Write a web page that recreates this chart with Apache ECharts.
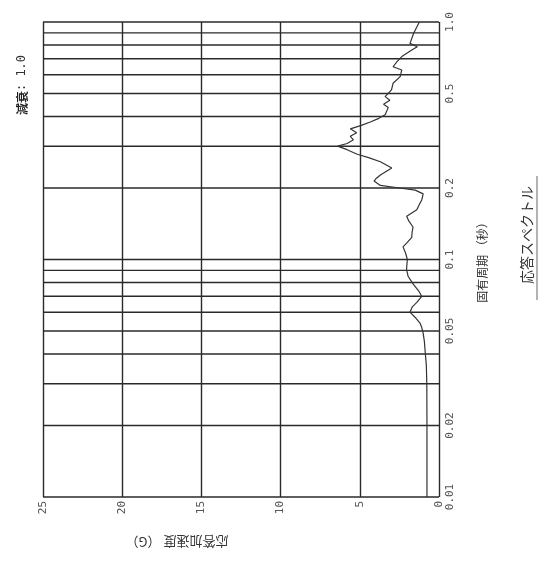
<!DOCTYPE html>
<html>
<head>
<meta charset="utf-8">
<script src="https://cdn.jsdelivr.net/npm/echarts@6/dist/echarts.min.js"></script>
<style>html,body{margin:0;padding:0;background:#fff;}#c{width:548px;height:563px;}</style>
</head>
<body>
<div id="c"></div>
<script>
// Period grid lines (s) and labelled ticks
const periodGrid = [0.01,0.02,0.03,0.04,0.05,0.06,0.07,0.08,0.09,0.1,0.2,0.3,0.4,0.5,0.6,0.7,0.8,0.9,1.0];
const periodTicks = [0.01,0.02,0.05,0.1,0.2,0.5,1.0];
const periodTickLabels = ['0.01','0.02','0.05','0.1','0.2','0.5','1.0'];
// Response spectrum: period (s) and response acceleration (G)
const period = [0.010,0.020,0.030,0.036,0.040,0.045,0.049,0.052,0.054,0.057,0.060,0.063,0.066,0.070,0.074,0.079,0.085,0.091,0.100,0.106,0.113,0.118,0.124,0.130,0.137,0.145,0.152,0.162,0.170,0.178,0.189,0.196,0.200,0.205,0.214,0.220,0.227,0.243,0.258,0.268,0.278,0.290,0.300,0.308,0.319,0.330,0.342,0.355,0.367,0.380,0.393,0.407,0.437,0.450,0.468,0.485,0.518,0.552,0.589,0.628,0.648,0.681,0.720,0.762,0.787,0.813,0.896,1.000];
const accel  = [0.76,0.76,0.77,0.80,0.86,0.92,1.00,1.10,1.20,1.50,1.83,1.70,1.40,1.09,1.30,1.64,1.95,2.05,2.00,2.10,2.27,2.00,1.72,1.70,1.64,1.90,2.04,1.40,1.25,1.09,1.00,1.50,2.50,3.70,4.10,3.95,3.70,2.98,3.70,4.40,5.20,5.80,6.40,5.80,5.40,5.60,5.20,5.60,4.90,4.30,3.80,3.40,3.20,3.50,3.10,3.40,3.00,2.90,2.45,2.35,2.90,2.65,2.30,1.72,1.37,1.83,1.60,1.24];

const chart = echarts.init(document.getElementById('c'), null, {renderer:'canvas'});
const gridColor = '#2a2a2a';
chart.setOption({
  backgroundColor:'#fff',
  animation:false,
  grid:{left:43, right:109, top:22, bottom:66},
  xAxis:{
    type:'value', min:0, max:25, interval:5, inverse:true, position:'bottom',
    axisLine:{show:false}, axisTick:{show:false},
    splitLine:{show:true, lineStyle:{color:gridColor, width:1.4}},
    axisLabel:{rotate:90, margin:4, fontFamily:'DejaVu Sans Mono', fontSize:11, color:'#555'}
  },
  yAxis:{
    type:'log', logBase:10, min:0.01, max:1, position:'right',
    axisLine:{show:false}, axisTick:{show:false}, axisLabel:{show:false}, splitLine:{show:false},
    name:'固有周期 （秒）', nameLocation:'middle', nameRotate:90, nameGap:37,
    nameTextStyle:{fontFamily:'Noto Sans CJK JP', fontSize:12, color:'#333'}
  },
  graphic:[
    {type:'text', x:527, y:235, rotation:Math.PI/2,
     style:{text:'応答スペクトル', font:'14px "Noto Sans CJK JP"', fill:'#333', align:'center', verticalAlign:'middle'}},
    {type:'line', shape:{x1:537, y1:176, x2:537, y2:300}, style:{stroke:'#666', lineWidth:1}},
    {type:'text', x:22, y:85, rotation:Math.PI/2,
     style:{text:'{a|減衰}{b|: 1.0}', align:'center', verticalAlign:'middle',
       rich:{a:{font:'bold 12px "Noto Sans CJK JP"', fill:'#222'}, b:{font:'12px "DejaVu Sans Mono"', fill:'#333'}}}},
    {type:'text', x:177, y:542, rotation:Math.PI,
     style:{text:'応答加速度 （G）', font:'13px "Noto Sans CJK JP"', fill:'#333', align:'center', verticalAlign:'middle'}}
  ],
  series:[
    {
      type:'custom', silent:true, clip:false, z:1,
      data: periodGrid.map(v => [0, v]),
      renderItem:(params, api) => {
        const v = api.value(1);
        const p1 = api.coord([25, v]);
        const p2 = api.coord([0, v]);
        return {type:'line', shape:{x1:p1[0], y1:p1[1], x2:p2[0], y2:p2[1]}, style:{stroke:gridColor, lineWidth:1.4}};
      }
    },
    {
      type:'custom', silent:true, clip:false, z:2,
      data: periodTicks.map(v => [0, v]),
      renderItem:(params, api) => {
        const p = api.coord([0, api.value(1)]);
        return {type:'text', x:p[0]+11, y:p[1], rotation:Math.PI/2,
          style:{text:periodTickLabels[params.dataIndex], font:'11px "DejaVu Sans Mono"', fill:'#555', align:'center', verticalAlign:'middle'}};
      }
    },
    {
      type:'line', z:3, showSymbol:false, silent:true,
      data: period.map((t,i) => [accel[i], t]),
      lineStyle:{color:'#333', width:1.2}
    }
  ]
});
</script>
</body>
</html>
